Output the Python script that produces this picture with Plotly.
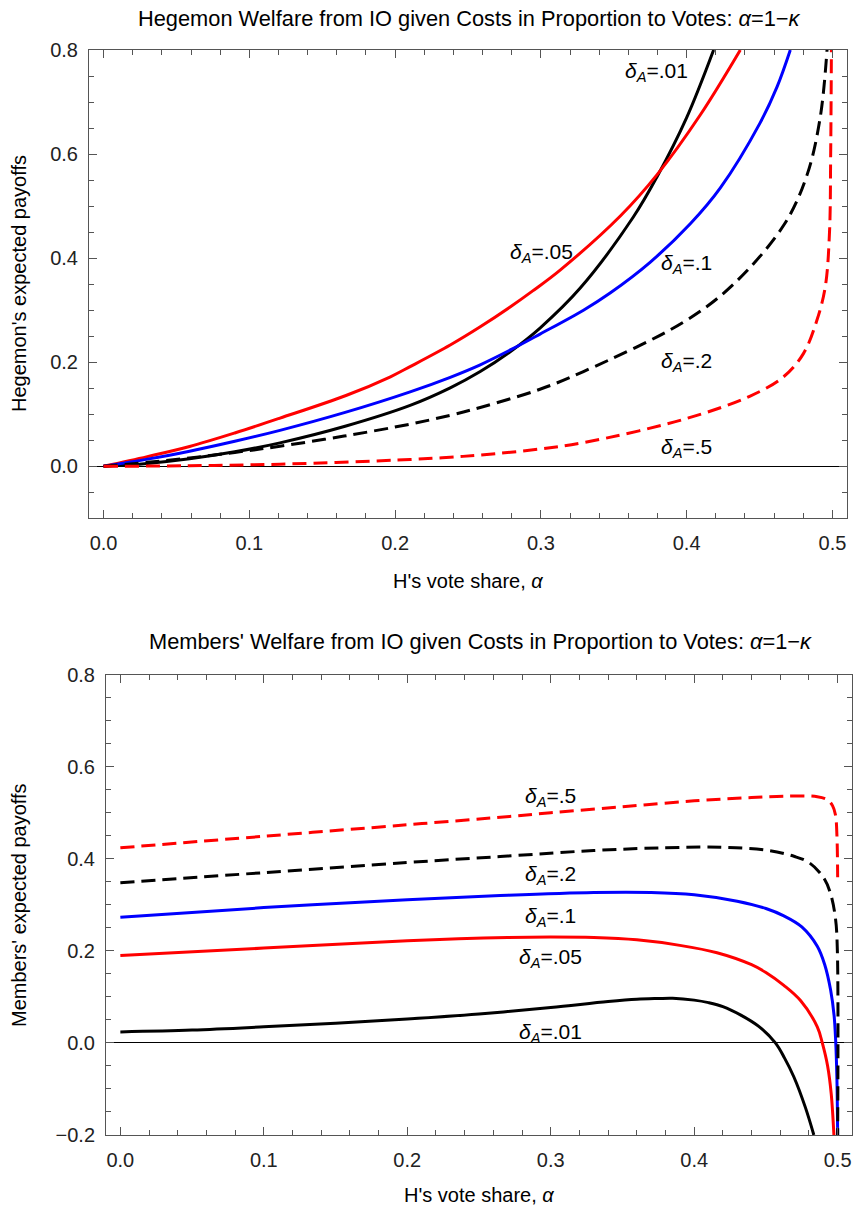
import plotly.graph_objects as go

# ---------------- data: top panel (Hegemon's expected payoffs) ----------------
top_a_01 = [0, 0.03, 0.059, 0.09, 0.121, 0.1663, 0.2103, 0.2378, 0.2584, 0.2801, 0.2994, 0.327, 0.3633, 0.3796, 0.400, 0.4185]
top_v_01 = [0, 0.0055, 0.0144, 0.0277, 0.045, 0.0774, 0.117, 0.1507, 0.182, 0.2225, 0.2657, 0.3425, 0.4785, 0.556, 0.670, 0.8]

top_a_05 = [0, 0.03, 0.059, 0.09, 0.121, 0.1663, 0.1968, 0.2103, 0.2378, 0.2584, 0.2789, 0.2944, 0.3132, 0.3545, 0.3796, 0.4093, 0.4368]
top_v_05 = [0, 0.0185, 0.038, 0.064, 0.0925, 0.136, 0.172, 0.1915, 0.233, 0.268, 0.306, 0.337, 0.377, 0.481, 0.560, 0.675, 0.8]

top_a_1 = [0, 0.03, 0.059, 0.09, 0.121, 0.1663, 0.2103, 0.2378, 0.2584, 0.2801, 0.2994, 0.3292, 0.3475, 0.3749, 0.4025, 0.4231, 0.4504, 0.462, 0.4711]
top_v_1 = [0, 0.0137, 0.029, 0.048, 0.069, 0.104, 0.143, 0.171, 0.195, 0.225, 0.254, 0.300, 0.333, 0.392, 0.466, 0.535, 0.66, 0.729, 0.8]

top_a_2 = [0, 0.03, 0.059, 0.09, 0.121, 0.165, 0.2103, 0.2378, 0.2584, 0.2994, 0.3292, 0.3978, 0.4322, 0.467, 0.4826, 0.4916, 0.4963]
top_v_2 = [0, 0.0075, 0.016, 0.0266, 0.0385, 0.058, 0.081, 0.098, 0.113, 0.148, 0.182, 0.277, 0.350, 0.465, 0.56, 0.67, 0.8]

top_a_5 = [0, 0.059, 0.121, 0.2103, 0.2378, 0.2584, 0.2994, 0.3292, 0.3978, 0.4436, 0.4665, 0.4802, 0.4894, 0.4951, 0.498, 0.4988, 0.4993]
top_v_5 = [0, 0.001, 0.004, 0.013, 0.0174, 0.0216, 0.0332, 0.0454, 0.090, 0.135, 0.172, 0.217, 0.281, 0.345, 0.45, 0.6, 0.8]

# ---------------- data: bottom panel (Members' expected payoffs) ----------------
bot_a_01 = [0, 0.05, 0.1, 0.15, 0.2, 0.25, 0.3, 0.34, 0.36, 0.375, 0.385, 0.4, 0.41, 0.42, 0.4322, 0.445, 0.4566, 0.463, 0.4695, 0.4775, 0.4834]
bot_v_01 = [0.024, 0.028, 0.035, 0.043, 0.052, 0.063, 0.077, 0.090, 0.095, 0.0965, 0.097, 0.093, 0.0875, 0.079, 0.061, 0.036, 0.0, -0.033, -0.074, -0.14, -0.2]

bot_a_05 = [0, 0.1, 0.2, 0.27, 0.3, 0.33, 0.36, 0.39, 0.4159, 0.44, 0.45, 0.4625, 0.4741, 0.4858, 0.4893, 0.493, 0.4955, 0.4974]
bot_v_05 = [0.19, 0.206, 0.222, 0.229, 0.23, 0.229, 0.224, 0.212, 0.196, 0.17, 0.153, 0.125, 0.092, 0.035, 0.0, -0.05, -0.11, -0.2]

bot_a_1 = [0, 0.1, 0.2, 0.27, 0.33, 0.37, 0.4, 0.43, 0.45, 0.4625, 0.475, 0.4858, 0.491, 0.4951, 0.4975, 0.4986, 0.4995, 0.5]
bot_v_1 = [0.273, 0.294, 0.311, 0.321, 0.327, 0.327, 0.322, 0.308, 0.292, 0.276, 0.252, 0.21, 0.17, 0.115, 0.06, 0.006, -0.08, -0.2]

bot_a_2 = [0, 0.1, 0.2, 0.27, 0.33, 0.38, 0.42, 0.45, 0.47, 0.48, 0.49, 0.495, 0.4985, 0.4998, 0.5]
bot_v_2 = [0.348, 0.370, 0.392, 0.406, 0.418, 0.424, 0.425, 0.419, 0.405, 0.392, 0.36, 0.325, 0.27, 0.2, -0.2]

bot_a_5 = [0, 0.1, 0.2, 0.2713, 0.3, 0.35, 0.4, 0.44, 0.4625, 0.4858, 0.493, 0.4965, 0.4985, 0.4995, 0.5]
bot_v_5 = [0.424, 0.449, 0.474, 0.492, 0.500, 0.513, 0.526, 0.533, 0.536, 0.535, 0.528, 0.515, 0.495, 0.45, 0.36]

# labels
label_vals = [".01", ".05", ".1", ".2", ".5"]
top_lab_x = [0.3791, 0.3002, 0.3997, 0.3997, 0.3997]
top_lab_y = [0.758, 0.41, 0.388, 0.2, 0.036]
bot_lab_x = [0.300, 0.300, 0.300, 0.300, 0.300]
bot_lab_y = [0.021, 0.184, 0.273, 0.365, 0.534]

x_tickvals = [0, 0.1, 0.2, 0.3, 0.4, 0.5]
x_ticktext = ["0.0", "0.1", "0.2", "0.3", "0.4", "0.5"]
top_y_tickvals = [0, 0.2, 0.4, 0.6, 0.8]
top_y_ticktext = ["0.0", "0.2", "0.4", "0.6", "0.8"]
bot_y_tickvals = [-0.2, 0, 0.2, 0.4, 0.6, 0.8]
bot_y_ticktext = ["\u22120.2", "0.0", "0.2", "0.4", "0.6", "0.8"]

FONT = "Liberation Sans, Arial, sans-serif"
RED = "#ff0000"
BLUE = "#0000ff"
BLACK = "#000000"
DASH = "14px,7px"

styles = [(BLACK, "solid"), (RED, "solid"), (BLUE, "solid"), (BLACK, DASH), (RED, DASH)]

fig = go.Figure()

top_series = [(top_a_01, top_v_01), (top_a_05, top_v_05), (top_a_1, top_v_1), (top_a_2, top_v_2), (top_a_5, top_v_5)]
bot_series = [(bot_a_01, bot_v_01), (bot_a_05, bot_v_05), (bot_a_1, bot_v_1), (bot_a_2, bot_v_2), (bot_a_5, bot_v_5)]

for (xs, ys), (col, dash) in zip(top_series, styles):
    fig.add_trace(go.Scatter(x=xs, y=ys, mode="lines", xaxis="x", yaxis="y",
                             line=dict(color=col, width=3, dash=dash, shape="spline", smoothing=1.0),
                             showlegend=False, hoverinfo="skip"))
for (xs, ys), (col, dash) in zip(bot_series, styles):
    fig.add_trace(go.Scatter(x=xs, y=ys, mode="lines", xaxis="x2", yaxis="y2",
                             line=dict(color=col, width=3, dash=dash, shape="spline", smoothing=1.0),
                             showlegend=False, hoverinfo="skip"))

def lab(v):
    return "<i>δ</i><sub><i>A</i></sub>=" + v

LABSIZE = 21
ann = []
for v, x, y in zip(label_vals, top_lab_x, top_lab_y):
    ann.append(dict(x=x, y=y, xref="x", yref="y", text=lab(v),
                    showarrow=False, font=dict(family=FONT, size=LABSIZE, color="black")))
for v, x, y in zip(label_vals, bot_lab_x, bot_lab_y):
    ann.append(dict(x=x, y=y, xref="x2", yref="y2", text=lab(v),
                    showarrow=False, font=dict(family=FONT, size=LABSIZE, color="black")))

W, H = 853, 1207
def px_x(p):
    return p / W
def px_y(p):
    return 1 - p / H

TSIZE = 21.8
ASIZE = 20
ann += [
    dict(x=px_x(469), y=px_y(19), xref="paper", yref="paper", showarrow=False, yanchor="middle",
         text="Hegemon Welfare from IO given Costs in Proportion to Votes: <i>α</i>=1\u2212<i>κ</i>",
         font=dict(family=FONT, size=TSIZE, color="black")),
    dict(x=px_x(480), y=px_y(641), xref="paper", yref="paper", showarrow=False, yanchor="middle",
         text="Members' Welfare from IO given Costs in Proportion to Votes: <i>α</i>=1\u2212<i>κ</i>",
         font=dict(family=FONT, size=TSIZE, color="black")),
    dict(x=px_x(468), y=px_y(581), xref="paper", yref="paper", showarrow=False, yanchor="middle",
         text="H's vote share, <i>α</i>", font=dict(family=FONT, size=ASIZE, color="black")),
    dict(x=px_x(479), y=px_y(1195), xref="paper", yref="paper", showarrow=False, yanchor="middle",
         text="H's vote share, <i>α</i>", font=dict(family=FONT, size=ASIZE, color="black")),
    dict(x=px_x(19), y=px_y(284), xref="paper", yref="paper", showarrow=False, textangle=-90,
         xanchor="center", yanchor="middle",
         text="Hegemon's expected payoffs", font=dict(family=FONT, size=ASIZE, color="black")),
    dict(x=px_x(19), y=px_y(905), xref="paper", yref="paper", showarrow=False, textangle=-90,
         xanchor="center", yanchor="middle",
         text="Members' expected payoffs", font=dict(family=FONT, size=ASIZE, color="black")),
]

FRAME = "#555555"
common_x = dict(range=[-0.01, 0.51], tickmode="array", tickvals=x_tickvals, ticktext=x_ticktext,
                ticks="inside", ticklen=8, tickwidth=1, tickcolor=FRAME,
                minor=dict(dtick=0.02, tick0=0, ticks="inside", ticklen=5, tickwidth=1, tickcolor=FRAME),
                showline=True, linecolor=FRAME, linewidth=1, mirror="allticks",
                showgrid=False, zeroline=False, ticklabelstandoff=7,
                tickfont=dict(family=FONT, size=20, color="#222222"), fixedrange=True)
common_y = dict(ticks="inside", ticklen=8, tickwidth=1, tickcolor=FRAME, tickmode="array",
                minor=dict(dtick=0.05, tick0=0, ticks="inside", ticklen=5, tickwidth=1, tickcolor=FRAME),
                showline=True, linecolor=FRAME, linewidth=1, mirror="allticks",
                showgrid=False, zeroline=True, zerolinecolor="black", zerolinewidth=1,
                ticklabelstandoff=6,
                tickfont=dict(family=FONT, size=20, color="#222222"), fixedrange=True)

fig.update_layout(
    width=W, height=H,
    margin=dict(l=0, r=0, t=0, b=0, autoexpand=False),
    paper_bgcolor="white", plot_bgcolor="white",
    xaxis=dict(domain=[89 / W, 847 / W], anchor="y", **common_x),
    yaxis=dict(domain=[1 - 518.3 / H, 1 - 50 / H], anchor="x", range=[-0.1, 0.8],
               tickvals=top_y_tickvals, ticktext=top_y_ticktext, **common_y),
    xaxis2=dict(domain=[106 / W, 852 / W], anchor="y2", **common_x),
    yaxis2=dict(domain=[1 - 1135 / H, 1 - 674.7 / H], anchor="x2", range=[-0.2, 0.8],
                tickvals=bot_y_tickvals, ticktext=bot_y_ticktext, **common_y),
    annotations=ann,
    showlegend=False,
)

fig.write_html("out.html", config={"displayModeBar": False},
               post_script="document.body.style.margin='0';document.body.style.padding='0';document.body.style.overflow='hidden';")
